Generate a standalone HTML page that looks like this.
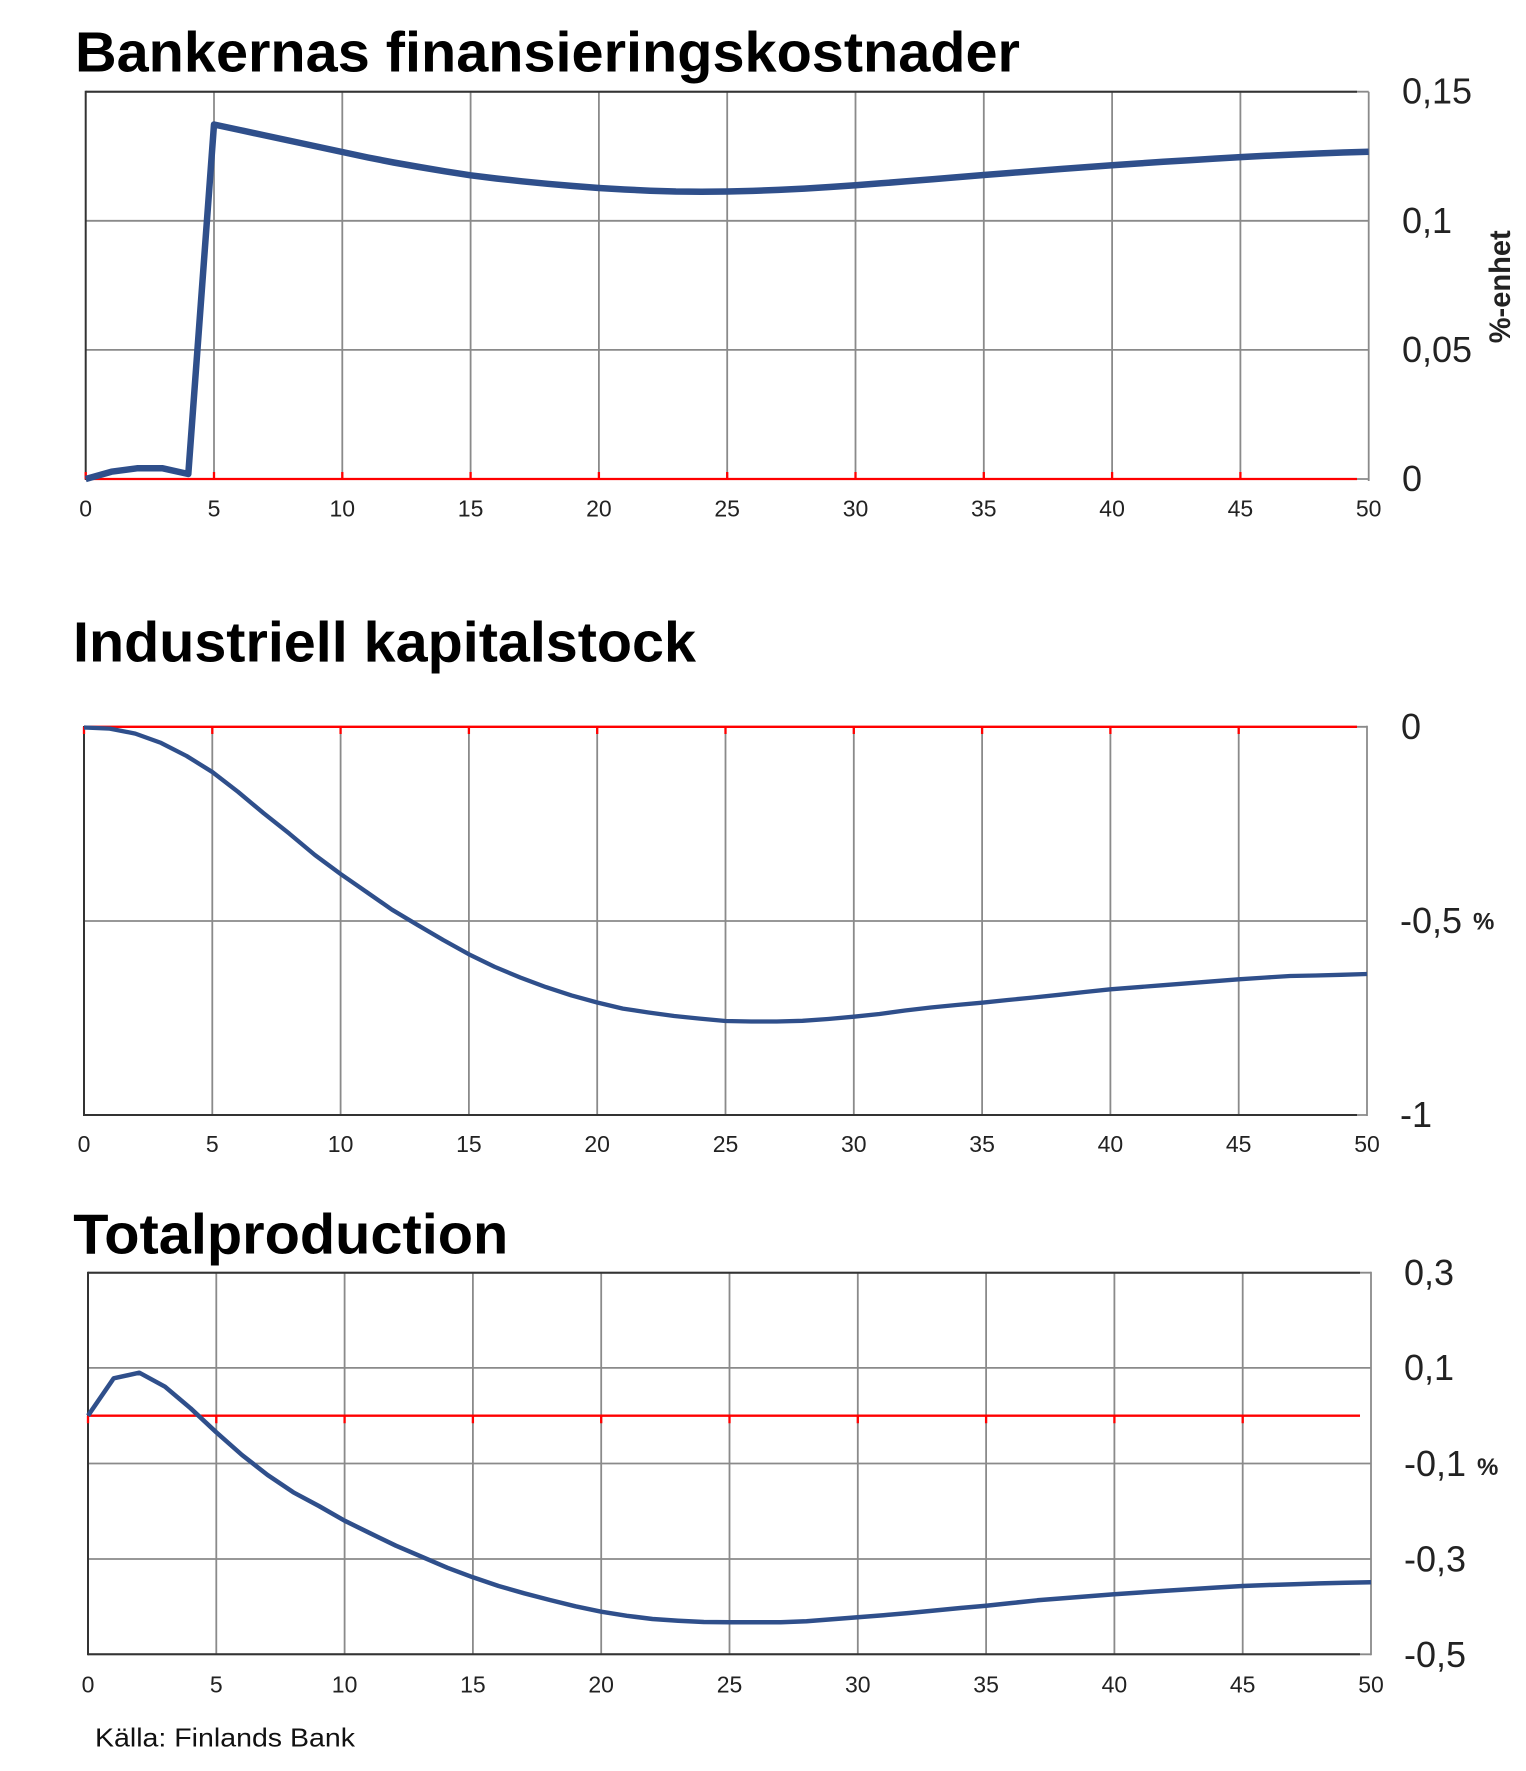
<!DOCTYPE html>
<html>
<head>
<meta charset="utf-8">
<style>
  html, body { margin: 0; padding: 0; background: #ffffff; }
  body { width: 1526px; height: 1771px; overflow: hidden; }
  svg { display: block; }
  .title { font-family: "Liberation Sans", Arial, sans-serif; font-weight: bold; font-size: 57px; fill: #000; }
  .ylab { font-family: "Liberation Sans", Arial, sans-serif; font-size: 36px; fill: #222; }
  .xlab { font-family: "Liberation Sans", Arial, sans-serif; font-size: 23px; fill: #222; text-anchor: middle; }
  .pct { font-family: "Liberation Sans", Arial, sans-serif; font-size: 24px; font-weight: bold; fill: #222; }
  .grid { stroke: #8a8a8a; stroke-width: 1.8; fill: none; }
  .dark { stroke: #333; stroke-width: 2; fill: none; }
  .zero { stroke: #ff0000; stroke-width: 2.3; fill: none; }
  .series { stroke: #2f4f8b; fill: none; stroke-linejoin: round; stroke-linecap: butt; }
</style>
</head>
<body>
<svg width="1526" height="1771" viewBox="0 0 1526 1771" xmlns="http://www.w3.org/2000/svg">

  <!-- ================= PLOT 1 ================= -->
  <text class="title" x="75" y="71.7" textLength="945" lengthAdjust="spacingAndGlyphs">Bankernas finansieringskostnader</text>

  <g>
    <!-- horizontal gridlines -->
    <line class="grid" x1="85.7" y1="91.7" x2="1368.7" y2="91.7"/>
    <line class="grid" x1="85.7" y1="220.8" x2="1368.7" y2="220.8"/>
    <line class="grid" x1="85.7" y1="349.9" x2="1368.7" y2="349.9"/>
    <line class="grid" x1="85.7" y1="479" x2="1368.7" y2="479"/>
    <!-- vertical gridlines -->
    <line class="grid" x1="214.0" y1="91.7" x2="214.0" y2="479"/>
    <line class="grid" x1="342.3" y1="91.7" x2="342.3" y2="479"/>
    <line class="grid" x1="470.6" y1="91.7" x2="470.6" y2="479"/>
    <line class="grid" x1="598.9" y1="91.7" x2="598.9" y2="479"/>
    <line class="grid" x1="727.2" y1="91.7" x2="727.2" y2="479"/>
    <line class="grid" x1="855.5" y1="91.7" x2="855.5" y2="479"/>
    <line class="grid" x1="983.8" y1="91.7" x2="983.8" y2="479"/>
    <line class="grid" x1="1112.1" y1="91.7" x2="1112.1" y2="479"/>
    <line class="grid" x1="1240.4" y1="91.7" x2="1240.4" y2="479"/>
    <line class="grid" x1="1368.7" y1="91.7" x2="1368.7" y2="481"/>
    <!-- dark borders -->
    <line class="dark" x1="85.7" y1="91.7" x2="1357" y2="91.7"/>
    <line class="dark" x1="85.7" y1="90.7" x2="85.7" y2="480"/>
    <!-- zero line + ticks -->
    <line class="zero" x1="85.7" y1="479" x2="1357" y2="479"/>
    <path class="zero" d="M85.7 479V472 M214.0 479V472 M342.3 479V472 M470.6 479V472 M598.9 479V472 M727.2 479V472 M855.5 479V472 M983.8 479V472 M1112.1 479V472 M1240.4 479V472"/>
    <!-- series -->
    <polyline class="series" stroke-width="6.5" points="85.7,479 111.4,471.7 137.0,468.3 162.7,468.3 188.3,474 214.0,124.5 239.7,130 265.3,135.5 291.0,141 316.6,146.5 342.3,152 368.0,157.5 393.6,162.5 419.3,167 444.9,171.3 470.6,175.3 496.3,178.5 521.9,181.3 547.6,183.8 573.2,186 598.9,188 624.6,189.5 650.2,190.7 675.9,191.5 701.5,191.7 727.2,191.5 752.9,190.9 778.5,189.9 804.2,188.6 829.8,187 855.5,185.2 881.2,183.3 906.8,181.3 932.5,179.2 958.1,177.1 983.8,175 1009.5,173 1035.1,171 1060.8,169 1086.4,167.1 1112.1,165.3 1137.8,163.5 1163.4,161.8 1189.1,160.2 1214.7,158.6 1240.4,157.1 1266.1,155.8 1291.7,154.6 1317.4,153.5 1343.0,152.5 1368.7,151.7"/>
    <!-- y labels -->
    <text class="ylab" x="1402" y="103.7">0,15</text>
    <text class="ylab" x="1402" y="232.8">0,1</text>
    <text class="ylab" x="1402" y="361.9">0,05</text>
    <text class="ylab" x="1402" y="491">0</text>
    <text transform="translate(1510,343.3) rotate(-90)" font-family="Liberation Sans, Arial, sans-serif" font-weight="bold" font-size="30" fill="#222" textLength="113" lengthAdjust="spacingAndGlyphs">%-enhet</text>
    <!-- x labels -->
    <text class="xlab" x="85.7" y="516.5">0</text>
    <text class="xlab" x="214.0" y="516.5">5</text>
    <text class="xlab" x="342.3" y="516.5">10</text>
    <text class="xlab" x="470.6" y="516.5">15</text>
    <text class="xlab" x="598.9" y="516.5">20</text>
    <text class="xlab" x="727.2" y="516.5">25</text>
    <text class="xlab" x="855.5" y="516.5">30</text>
    <text class="xlab" x="983.8" y="516.5">35</text>
    <text class="xlab" x="1112.1" y="516.5">40</text>
    <text class="xlab" x="1240.4" y="516.5">45</text>
    <text class="xlab" x="1368.7" y="516.5">50</text>
  </g>

  <!-- ================= PLOT 2 ================= -->
  <text class="title" x="73" y="661.4" textLength="623" lengthAdjust="spacingAndGlyphs">Industriell kapitalstock</text>

  <g>
    <line class="grid" x1="84" y1="726.8" x2="1367" y2="726.8"/>
    <line class="grid" x1="84" y1="921" x2="1367" y2="921"/>
    <line class="grid" x1="84" y1="1115" x2="1367" y2="1115"/>
    <line class="grid" x1="212.3" y1="726.8" x2="212.3" y2="1115"/>
    <line class="grid" x1="340.6" y1="726.8" x2="340.6" y2="1115"/>
    <line class="grid" x1="468.9" y1="726.8" x2="468.9" y2="1115"/>
    <line class="grid" x1="597.2" y1="726.8" x2="597.2" y2="1115"/>
    <line class="grid" x1="725.5" y1="726.8" x2="725.5" y2="1115"/>
    <line class="grid" x1="853.8" y1="726.8" x2="853.8" y2="1115"/>
    <line class="grid" x1="982.1" y1="726.8" x2="982.1" y2="1115"/>
    <line class="grid" x1="1110.4" y1="726.8" x2="1110.4" y2="1115"/>
    <line class="grid" x1="1238.7" y1="726.8" x2="1238.7" y2="1115"/>
    <line class="grid" x1="1367" y1="725.8" x2="1367" y2="1116"/>
    <line class="dark" x1="84" y1="1115" x2="1357" y2="1115"/>
    <line class="dark" x1="84" y1="726" x2="84" y2="1116"/>
    <line class="zero" x1="84" y1="726.8" x2="1357" y2="726.8"/>
    <path class="zero" d="M84 726.8V734 M212.3 726.8V734 M340.6 726.8V734 M468.9 726.8V734 M597.2 726.8V734 M725.5 726.8V734 M853.8 726.8V734 M982.1 726.8V734 M1110.4 726.8V734 M1238.7 726.8V734"/>
    <polyline class="series" stroke-width="4.3" points="84.0,727.5 109.7,728.6 135.3,733.6 161.0,742.9 186.6,756 212.3,772 238.0,791.8 263.6,813.2 289.3,833.6 314.9,855 340.6,874 366.3,891.8 391.9,909.6 417.6,925 443.2,940 468.9,954.3 494.6,966.8 520.2,977.5 545.9,987.1 571.5,995.4 597.2,1002.5 622.9,1008.6 648.5,1012.5 674.2,1016 699.8,1018.6 725.5,1021 751.2,1021.5 776.8,1021.5 802.5,1020.8 828.1,1019 853.8,1016.7 879.5,1014 905.1,1010.5 930.8,1007.5 956.4,1005 982.1,1002.7 1007.8,1000 1033.4,997.5 1059.1,994.8 1084.7,992 1110.4,989.3 1136.1,987.3 1161.7,985.3 1187.4,983.3 1213.0,981.3 1238.7,979.3 1264.4,977.6 1290.0,976 1315.7,975.5 1341.3,974.8 1367.0,974"/>
    <text class="ylab" x="1401" y="738.8">0</text>
    <text class="ylab" x="1400" y="933">-0,5</text>
    <text class="pct" x="1473" y="929.5">%</text>
    <text class="ylab" x="1400" y="1127">-1</text>
    <text class="xlab" x="84" y="1152">0</text>
    <text class="xlab" x="212.3" y="1152">5</text>
    <text class="xlab" x="340.6" y="1152">10</text>
    <text class="xlab" x="468.9" y="1152">15</text>
    <text class="xlab" x="597.2" y="1152">20</text>
    <text class="xlab" x="725.5" y="1152">25</text>
    <text class="xlab" x="853.8" y="1152">30</text>
    <text class="xlab" x="982.1" y="1152">35</text>
    <text class="xlab" x="1110.4" y="1152">40</text>
    <text class="xlab" x="1238.7" y="1152">45</text>
    <text class="xlab" x="1367" y="1152">50</text>
  </g>

  <!-- ================= PLOT 3 ================= -->
  <text class="title" x="73.3" y="1253.3" textLength="435" lengthAdjust="spacingAndGlyphs">Totalproduction</text>

  <g>
    <line class="grid" x1="88" y1="1272.7" x2="1371" y2="1272.7"/>
    <line class="grid" x1="88" y1="1367.9" x2="1371" y2="1367.9"/>
    <line class="grid" x1="88" y1="1463.5" x2="1371" y2="1463.5"/>
    <line class="grid" x1="88" y1="1559" x2="1371" y2="1559"/>
    <line class="grid" x1="88" y1="1654.3" x2="1371" y2="1654.3"/>
    <line class="grid" x1="216.3" y1="1272.7" x2="216.3" y2="1654.3"/>
    <line class="grid" x1="344.6" y1="1272.7" x2="344.6" y2="1654.3"/>
    <line class="grid" x1="472.9" y1="1272.7" x2="472.9" y2="1654.3"/>
    <line class="grid" x1="601.2" y1="1272.7" x2="601.2" y2="1654.3"/>
    <line class="grid" x1="729.5" y1="1272.7" x2="729.5" y2="1654.3"/>
    <line class="grid" x1="857.8" y1="1272.7" x2="857.8" y2="1654.3"/>
    <line class="grid" x1="986.1" y1="1272.7" x2="986.1" y2="1654.3"/>
    <line class="grid" x1="1114.4" y1="1272.7" x2="1114.4" y2="1654.3"/>
    <line class="grid" x1="1242.7" y1="1272.7" x2="1242.7" y2="1654.3"/>
    <line class="grid" x1="1371" y1="1271.7" x2="1371" y2="1655.3"/>
    <line class="dark" x1="88" y1="1272.7" x2="1360" y2="1272.7"/>
    <line class="dark" x1="88" y1="1654.3" x2="1360" y2="1654.3"/>
    <line class="dark" x1="88" y1="1271.7" x2="88" y2="1655.3"/>
    <line class="zero" x1="88" y1="1415.7" x2="1360" y2="1415.7"/>
    <path class="zero" d="M88 1415.7V1423.3 M216.3 1415.7V1423.3 M344.6 1415.7V1423.3 M472.9 1415.7V1423.3 M601.2 1415.7V1423.3 M729.5 1415.7V1423.3 M857.8 1415.7V1423.3 M986.1 1415.7V1423.3 M1114.4 1415.7V1423.3 M1242.7 1415.7V1423.3"/>
    <polyline class="series" stroke-width="4.5" points="88.0,1415.7 113.7,1378.3 139.3,1372.7 165.0,1386.7 190.6,1408.3 216.3,1432.3 242.0,1455 267.6,1475 293.3,1492.3 318.9,1506 344.6,1520.7 370.3,1533.3 395.9,1545.7 421.6,1556.7 447.2,1567.7 472.9,1577.3 498.6,1586 524.2,1593.3 549.9,1600 575.5,1606.3 601.2,1611.7 626.9,1615.8 652.5,1619 678.2,1620.7 703.8,1622 729.5,1622.3 755.2,1622.3 780.8,1622.3 806.5,1621.2 832.1,1619.3 857.8,1617.2 883.5,1615.2 909.1,1613 934.8,1610.5 960.4,1608 986.1,1605.7 1011.8,1603 1037.4,1600.3 1063.1,1598.3 1088.7,1596.3 1114.4,1594.3 1140.1,1592.5 1165.7,1590.8 1191.4,1589.1 1217.0,1587.5 1242.7,1586 1268.4,1585 1294.0,1584.2 1319.7,1583.4 1345.3,1582.8 1371.0,1582.3"/>
    <text class="ylab" x="1404" y="1285.2">0,3</text>
    <text class="ylab" x="1404" y="1380.2">0,1</text>
    <text class="ylab" x="1404" y="1476">-0,1</text>
    <text class="pct" x="1477" y="1475">%</text>
    <text class="ylab" x="1404" y="1571.5">-0,3</text>
    <text class="ylab" x="1404" y="1666.8">-0,5</text>
    <text class="xlab" x="88" y="1692.5">0</text>
    <text class="xlab" x="216.3" y="1692.5">5</text>
    <text class="xlab" x="344.6" y="1692.5">10</text>
    <text class="xlab" x="472.9" y="1692.5">15</text>
    <text class="xlab" x="601.2" y="1692.5">20</text>
    <text class="xlab" x="729.5" y="1692.5">25</text>
    <text class="xlab" x="857.8" y="1692.5">30</text>
    <text class="xlab" x="986.1" y="1692.5">35</text>
    <text class="xlab" x="1114.4" y="1692.5">40</text>
    <text class="xlab" x="1242.7" y="1692.5">45</text>
    <text class="xlab" x="1371" y="1692.5">50</text>
  </g>

  <!-- source -->
  <text x="95" y="1746.7" font-family="Liberation Sans, Arial, sans-serif" font-size="26" fill="#111" textLength="260" lengthAdjust="spacingAndGlyphs">Källa: Finlands Bank</text>
</svg>
</body>
</html>
